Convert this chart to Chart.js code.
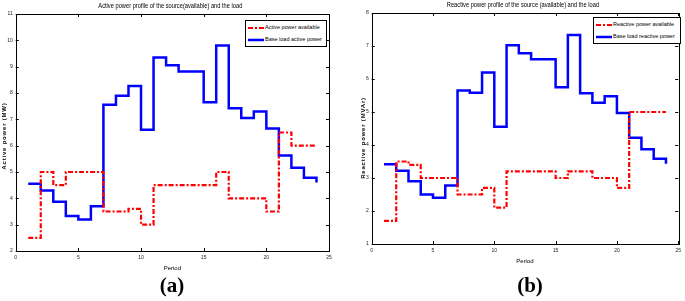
<!DOCTYPE html>
<html>
<head>
<meta charset="utf-8">
<script src="https://cdn.jsdelivr.net/npm/chart.js@4.4.1/dist/chart.umd.min.js"></script>
<style>
  body { margin: 0; background: #fff; width: 685px; height: 301px; position: relative; overflow: hidden; }
  canvas { position: absolute; }
  .legend { position: absolute; border: 1px solid #000; background: #fff; font-family: "Liberation Sans", Arial, sans-serif; font-size: 5.5px; color: #000; box-sizing: border-box; }
  .legend div { position: absolute; left: 2px; height: 8px; line-height: 8px; white-space: nowrap; }
  .legend svg { vertical-align: middle; margin-right: 1px; }
  .caption { position: absolute; font-family: "Liberation Serif", "Times New Roman", serif; font-weight: bold; font-size: 21px; width: 60px; text-align: center; }
</style>
</head>
<body>
<canvas id="chartA" style="left:0px; top:0px;"></canvas>
<canvas id="chartB" style="left:340px; top:0px;"></canvas>

<div class="legend" style="left:245px; top:20px; width:82px; height:27px;">
  <div style="top:2px;"><svg width="16" height="4"><line x1="0" y1="2" x2="16" y2="2" stroke="#ff0000" stroke-width="2.2" stroke-dasharray="5,2,2,2"/></svg>Active power available</div>
  <div style="top:14px;"><svg width="16" height="4"><line x1="0" y1="2" x2="16" y2="2" stroke="#0000ff" stroke-width="2.5"/></svg>Base load active power</div>
</div>
<div class="legend" style="left:593px; top:17px; width:88px; height:27px;">
  <div style="top:2px;"><svg width="16" height="4"><line x1="0" y1="2" x2="16" y2="2" stroke="#ff0000" stroke-width="2.2" stroke-dasharray="5,2,2,2"/></svg>Reactive power available</div>
  <div style="top:14px;"><svg width="16" height="4"><line x1="0" y1="2" x2="16" y2="2" stroke="#0000ff" stroke-width="2.5"/></svg>Base load reactive power</div>
</div>

<div class="caption" style="left:142px; top:273px;">(a)</div>
<div class="caption" style="left:500px; top:273px;">(b)</div>

<script>
var periods = [1,2,3,4,5,6,7,8,9,10,11,12,13,14,15,16,17,18,19,20,21,22,23,24];

// (a) active power, MW
var activeAvailable = [2.5,5.0,4.5,5.0,5.0,5.0,3.5,3.5,3.6,3.0,4.5,4.5,4.5,4.5,4.5,5.0,4.0,4.0,4.0,3.5,6.5,6.0,6.0,6.0];
var activeLoad = [4.55,4.3,3.87,3.33,3.2,3.7,7.55,7.9,8.27,6.6,9.35,9.05,8.82,8.82,7.65,9.8,7.42,7.05,7.3,6.65,5.63,5.16,4.78,4.6];

// (b) reactive power, MVAr
var reactiveAvailable = [1.7,3.5,3.4,3.0,3.0,3.0,2.5,2.5,2.7,2.1,3.2,3.2,3.2,3.2,3.0,3.2,3.2,3.0,3.0,2.7,5.0,5.0,5.0,5.0];
var reactiveLoad = [3.42,3.22,2.9,2.5,2.4,2.77,5.65,5.58,6.2,4.55,7.02,6.78,6.6,6.6,5.75,7.33,5.57,5.28,5.48,4.97,4.22,3.87,3.58,3.43];

var fontFam = '"Liberation Sans", Arial, sans-serif';

function punkte(werte) {
  var liste = [];
  for (var i = 0; i < periods.length; i++) {
    liste.push({x: periods[i], y: werte[i]});
  }
  return liste;
}

/* matlab kutusu: cerceve, ice dogru tikler, baslik, y etiketi */
var matlabBox = {
  id: 'matlabBox',
  afterDraw: function (chart, args, opts) {
    var ctx = chart.ctx;
    var a = chart.chartArea;
    var xs = chart.scales.x, ys = chart.scales.y;
    ctx.save();
    ctx.strokeStyle = '#000';
    ctx.lineWidth = 1;
    ctx.strokeRect(Math.round(a.left) + 0.5, Math.round(a.top) + 0.5, Math.round(a.right - a.left), Math.round(a.bottom - a.top));
    ctx.beginPath();
    xs.ticks.forEach(function (t) {
      var px = Math.round(xs.getPixelForValue(t.value)) + 0.5;
      ctx.moveTo(px, a.bottom); ctx.lineTo(px, a.bottom - 3);
      ctx.moveTo(px, a.top); ctx.lineTo(px, a.top + 3);
    });
    ys.ticks.forEach(function (t) {
      var py = Math.round(ys.getPixelForValue(t.value)) + 0.5;
      ctx.moveTo(a.left, py); ctx.lineTo(a.left + 3, py);
      ctx.moveTo(a.right, py); ctx.lineTo(a.right - 3, py);
    });
    ctx.stroke();
    ctx.restore();

    // baslik (dar yazi)
    ctx.save();
    ctx.fillStyle = '#000';
    ctx.font = '6.5px ' + fontFam;
    ctx.textAlign = 'center';
    ctx.textBaseline = 'middle';
    ctx.translate((a.left + a.right) / 2 + opts.shift, opts.y);
    ctx.scale(0.88, 1);
    ctx.fillText(opts.text, 0, 0);
    ctx.restore();

    // y ekseni etiketi, harf aralikli
    ctx.save();
    ctx.fillStyle = '#000';
    ctx.font = 'bold 6px ' + fontFam;
    ctx.letterSpacing = '0.8px';
    ctx.textAlign = 'center';
    ctx.textBaseline = 'middle';
    ctx.translate(opts.yLabelX, opts.yLabelY);
    ctx.rotate(-Math.PI / 2);
    ctx.fillText(opts.yLabel, 0, 0);
    ctx.restore();
  }
};

function grafikCiz(id, w, h, pad, yWidth, xHeight, yMin, yMax, yLabel, yLabelX, yLabelY, title, titleShift, titleY, veri1, veri2, ad1, ad2) {
  var el = document.getElementById(id);
  el.width = w; el.height = h;
  el.style.width = w + 'px'; el.style.height = h + 'px';
  return new Chart(el, {
    type: 'line',
    data: {
      datasets: [{
        label: ad1,
        data: punkte(veri1),
        stepped: true,
        borderColor: '#ff0000',
        borderWidth: 2.2,
        borderDash: [5, 2, 2, 2],
        pointRadius: 0,
        fill: false
      }, {
        label: ad2,
        data: punkte(veri2),
        stepped: true,
        borderColor: '#0000ff',
        borderWidth: 2.5,
        pointRadius: 0,
        fill: false
      }]
    },
    options: {
      responsive: false,
      animation: false,
      layout: { padding: pad },
      plugins: {
        legend: { display: false },
        tooltip: { enabled: false },
        matlabBox: { text: title, shift: titleShift, y: titleY, yLabel: yLabel, yLabelX: yLabelX, yLabelY: yLabelY }
      },
      scales: {
        x: {
          type: 'linear', min: 0, max: 25,
          grid: { display: false, drawTicks: false, tickLength: 0 },
          border: { display: false },
          ticks: { stepSize: 5, padding: 4, color: '#222', font: { size: 5, family: fontFam } },
          title: { display: true, text: 'Period', color: '#000', padding: { top: 0, bottom: 1.6 }, font: { size: 6, family: fontFam } },
          afterFit: function (s) { s.height = xHeight; }
        },
        y: {
          min: yMin, max: yMax,
          grid: { display: false, drawTicks: false, tickLength: 0 },
          border: { display: false },
          ticks: { stepSize: 1, padding: 3, color: '#222', font: { size: 5, family: fontFam } },
          afterFit: function (s) { s.width = yWidth; }
        }
      }
    },
    plugins: [matlabBox]
  });
}

grafikCiz('chartA', 336, 274, { left: 0, right: 7, top: 14, bottom: 0 }, 15.7, 23, 2, 11,
  'Active power (MW)', 4, 136, 'Active power profile of the source(available) and the load', -2, 6,
  activeAvailable, activeLoad, 'Active power available', 'Base load active power');

grafikCiz('chartB', 345, 267, { left: 0, right: 3, top: 13, bottom: 0 }, 31.7, 23, 1, 8,
  'Reactive power (MVAr)', 23, 138, 'Reactive power profile of the source (available) and the load', -2, 5,
  reactiveAvailable, reactiveLoad, 'Reactive power available', 'Base load reactive power');
</script>
</body>
</html>
